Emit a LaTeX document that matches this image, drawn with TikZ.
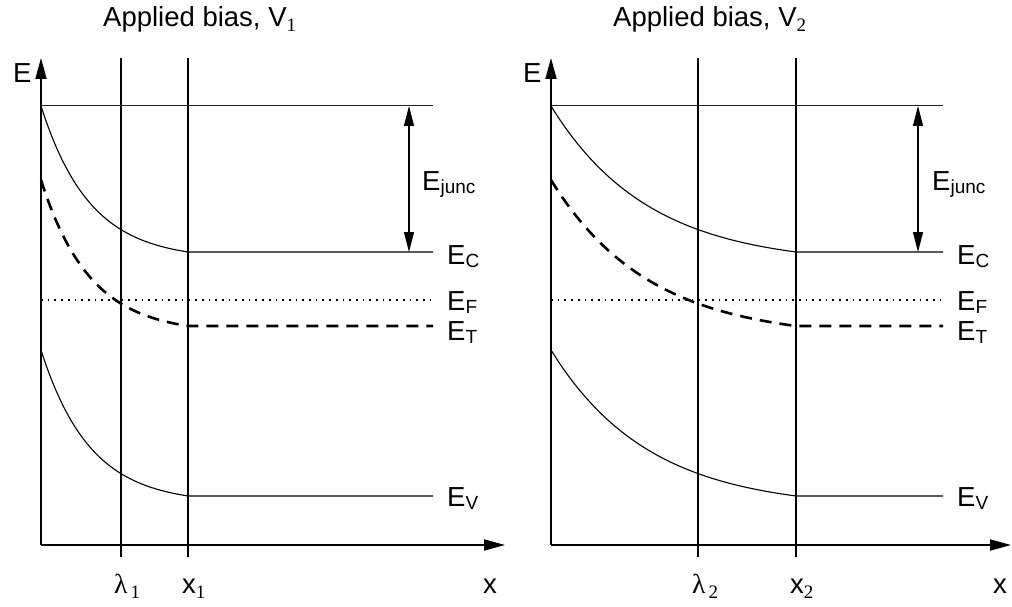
\documentclass[tikz,border=0pt]{standalone}
\usepackage{fontspec}
\setmainfont{Liberation Sans}
\newfontfamily\seriffam{Liberation Serif}
\usetikzlibrary{arrows.meta}
\newcommand{\lsub}[1]{\raisebox{-3pt}{\fontsize{19}{20}\selectfont #1}}
\newcommand{\ssub}[1]{\raisebox{-5pt}{\seriffam\fontsize{19}{20}\selectfont #1}}
\tikzset{
  lbl/.style={inner sep=0pt, anchor=base west, font=\fontsize{27.5}{30}\selectfont},
  axisline/.style={line width=1.8pt, -{Triangle[length=21pt,width=11pt]}},
  guide/.style={line width=1.05pt},
  thinline/.style={line width=1pt, draw=black!85},
  band/.style={line width=1.1pt},
  trap/.style={line width=2.6pt, dash pattern=on 12pt off 8pt},
  fermi/.style={line width=1.7pt, dash pattern=on 1.7pt off 5pt},
  tick/.style={line width=2pt},
  dimarrow/.style={line width=1.1pt, {Triangle[length=20pt,width=10pt]}-{Triangle[length=20pt,width=10pt]}}
}
\begin{document}
\begin{tikzpicture}[x=1pt,y=-1pt]
\useasboundingbox (0,0) rectangle (1012,607);

% ---------------- left panel ----------------
\coordinate (O1) at (41,545);
\coordinate (Ytip1) at (41,58);
\coordinate (Xtip1) at (505,545);
\node[lbl] (title1) at (103,27) {Applied bias, V\ssub{1}};
\node[lbl] (E1) at (13,83) {E};
\node[lbl] (x1lbl) at (483,593) {x};
\node[lbl] (lam1) at (114,593) {{\seriffam λ}\ssub{\,1}};
\node[lbl] (xx1) at (182,593) {x\ssub{1}};

\draw[guide] (121,58) -- (121,545);
\draw[guide] (188,58) -- (188,545);
\draw[tick] (121,545) -- (121,557);
\draw[tick] (188,545) -- (188,557);

\draw[thinline] (41,106) -- (433,106);
\draw[band] plot[domain=0:1,samples=60,smooth] ({41+147*\x},{106+146*(1-exp(-3*\x))/(1-exp(-3))}) -- (433,252);
\draw[trap] plot[domain=0:1,samples=60,smooth] ({41+147*\x},{180+146*(1-exp(-3*\x))/(1-exp(-3))}) -- (433,326);
\draw[fermi] (41,300) -- (433,300);
\draw[band] plot[domain=0:1,samples=60,smooth] ({41+147*\x},{350+146*(1-exp(-3*\x))/(1-exp(-3))}) -- (433,496);

\coordinate (J1a) at (409,106);
\coordinate (J1b) at (409,252);
\draw[dimarrow] (J1a) -- (J1b);
\node[lbl] (Ej1) at (422,190) {E\lsub{junc}};
\node[lbl] (Ec1) at (447,264) {E\lsub{C}};
\node[lbl] (Ef1) at (447,310) {E\lsub{F}};
\node[lbl] (Et1) at (447,340) {E\lsub{T}};
\node[lbl] (Ev1) at (447,506) {E\lsub{V}};

\draw[axisline] (O1) -- (Ytip1);
\draw[axisline] (O1) -- (Xtip1);

% ---------------- right panel ----------------
\coordinate (O2) at (551,545);
\coordinate (Ytip2) at (551,58);
\coordinate (Xtip2) at (1011,545);
\node[lbl] (title2) at (613,27) {Applied bias, V\ssub{2}};
\node[lbl] (E2) at (523,83) {E};
\node[lbl] (x2lbl) at (993,593) {x};
\node[lbl] (lam2) at (692,593) {{\seriffam λ}\ssub{\,2}};
\node[lbl] (xx2) at (790,593) {x\ssub{2}};

\draw[guide] (698,58) -- (698,545);
\draw[guide] (796,58) -- (796,545);
\draw[tick] (698,545) -- (698,557);
\draw[tick] (796,545) -- (796,557);

\draw[thinline] (551,106) -- (943,106);
\draw[band] plot[domain=0:1,samples=60,smooth] ({551+245*\x},{106+146*(1-exp(-2.5*\x))/(1-exp(-2.5))}) -- (943,252);
\draw[trap] plot[domain=0:1,samples=60,smooth] ({551+245*\x},{180+146*(1-exp(-2.5*\x))/(1-exp(-2.5))}) -- (943,326);
\draw[fermi] (551,300) -- (943,300);
\draw[band] plot[domain=0:1,samples=60,smooth] ({551+245*\x},{350+146*(1-exp(-2.5*\x))/(1-exp(-2.5))}) -- (943,496);

\coordinate (J2a) at (918,106);
\coordinate (J2b) at (918,252);
\draw[dimarrow] (J2a) -- (J2b);
\node[lbl] (Ej2) at (932,190) {E\lsub{junc}};
\node[lbl] (Ec2) at (957,264) {E\lsub{C}};
\node[lbl] (Ef2) at (957,310) {E\lsub{F}};
\node[lbl] (Et2) at (957,340) {E\lsub{T}};
\node[lbl] (Ev2) at (957,506) {E\lsub{V}};

\draw[axisline] (O2) -- (Ytip2);
\draw[axisline] (O2) -- (Xtip2);
\end{tikzpicture}
\end{document}
